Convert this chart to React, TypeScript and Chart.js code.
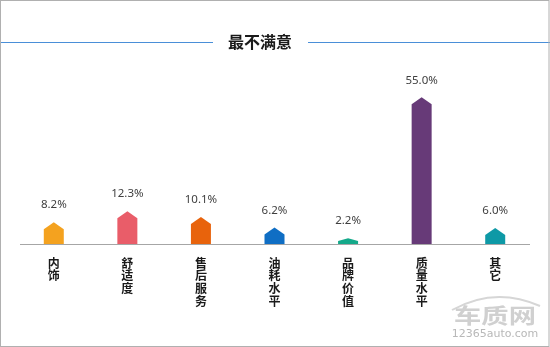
import React, { useEffect, useRef } from "react";
import { Chart, registerables } from "chart.js";

Chart.register(...registerables);

const categories: string[] = ["内饰", "舒适度", "售后服务", "油耗水平", "品牌价值", "质量水平", "其它"];
const values: number[] = [8.2, 12.3, 10.1, 6.2, 2.2, 55.0, 6.0];
const valueLabels: string[] = ["8.2%", "12.3%", "10.1%", "6.2%", "2.2%", "55.0%", "6.0%"];
const barColors: string[] = ["#f4a21f", "#e95d69", "#e8630c", "#0f6ec4", "#14a98a", "#673a78", "#0e99a6"];
const titleText = "最不满意";
const watermarkBrand = "车质网";
const watermarkSite = "12365auto.com";

const decorPlugin = {
  id: "decor",
  beforeDraw(chart: any) {
    const ctx = chart.ctx;
    ctx.save();
    ctx.fillStyle = "#ffffff";
    ctx.fillRect(0, 0, chart.width, chart.height);
    ctx.restore();
  },
  afterDatasetsDraw(chart: any) {
    const ctx = chart.ctx;
    const meta = chart.getDatasetMeta(0);
    ctx.save();
    meta.data.forEach((bar: any, i: number) => {
      const x = bar.x;
      const top = bar.y;
      const base = bar.base;
      const hw = bar.width / 2;
      const h = base - top;
      const cap = Math.min(7, h * 0.5);
      ctx.beginPath();
      ctx.moveTo(x - hw, base);
      ctx.lineTo(x - hw, top + cap);
      ctx.lineTo(x, top);
      ctx.lineTo(x + hw, top + cap);
      ctx.lineTo(x + hw, base);
      ctx.closePath();
      ctx.fillStyle = barColors[i];
      ctx.fill();
      ctx.font = '11.5px "Noto Sans", sans-serif';
      ctx.fillStyle = "#404040";
      ctx.textAlign = "center";
      ctx.textBaseline = "middle";
      ctx.fillText(valueLabels[i], x, top - 17);
    });
    // axis line
    const ca = chart.chartArea;
    ctx.strokeStyle = "#a6a6a6";
    ctx.lineWidth = 1;
    ctx.beginPath();
    ctx.moveTo(20, Math.round(ca.bottom) + 0.5);
    ctx.lineTo(530, Math.round(ca.bottom) + 0.5);
    ctx.stroke();
    ctx.restore();
  },
  afterDraw(chart: any) {
    const ctx = chart.ctx;
    ctx.save();
    // title
    ctx.font = 'bold 16px "Noto Sans CJK SC", sans-serif';
    ctx.fillStyle = "#1a1a1a";
    ctx.textAlign = "center";
    ctx.textBaseline = "middle";
    ctx.fillText(titleText, 260, 41.5);
    ctx.strokeStyle = "#4a8fd8";
    ctx.lineWidth = 1.2;
    ctx.beginPath();
    ctx.moveTo(0, 42.5);
    ctx.lineTo(213, 42.5);
    ctx.moveTo(308, 42.5);
    ctx.lineTo(550, 42.5);
    ctx.stroke();
    // watermark
    ctx.strokeStyle = "#d6d6d6";
    ctx.lineWidth = 2;
    ctx.beginPath();
    ctx.moveTo(452, 310);
    ctx.quadraticCurveTo(495, 286, 540, 306);
    ctx.stroke();
    ctx.save();
    ctx.translate(495, 315);
    ctx.scale(1.3, 1);
    ctx.font = 'bold 21px "Noto Sans CJK SC", sans-serif';
    ctx.fillStyle = "#d0d0d0";
    ctx.textAlign = "center";
    ctx.textBaseline = "middle";
    ctx.fillText(watermarkBrand, 0, 0);
    ctx.restore();
    ctx.font = '11px "DejaVu Sans", sans-serif';
    ctx.fillStyle = "#b8b8b8";
    ctx.textAlign = "center";
    ctx.textBaseline = "middle";
    ctx.fillText(watermarkSite, 495, 334);
    // border
    ctx.strokeStyle = "#b0b0b0";
    ctx.lineWidth = 1;
    ctx.strokeRect(0.5, 0.5, chart.width - 1.5, chart.height - 1);
    ctx.restore();
  },
};

export default function App() {
  const ref = useRef<HTMLCanvasElement>(null);
  useEffect(() => {
    document.body.style.margin = "0";
    const chart = new Chart(ref.current as HTMLCanvasElement, {
      type: "bar",
      data: {
        labels: categories.map((c) => c.split("")),
        datasets: [
          {
            data: values,
            backgroundColor: "rgba(0,0,0,0)",
            barThickness: 20,
          },
        ],
      },
      options: {
        responsive: false,
        animation: false,
        layout: { padding: { left: 17, right: 18, top: 84, bottom: 0 } },
        plugins: { legend: { display: false }, tooltip: { enabled: false }, title: { display: false } },
        scales: {
          x: {
            grid: { display: false },
            border: { display: false },
            ticks: {
              padding: 5,
              color: "#1a1a1a",
              font: { family: '"Noto Sans CJK SC", sans-serif', size: 12, weight: "bold", lineHeight: 1.05 },
              maxRotation: 0,
              autoSkip: false,
            },
            afterFit: (scale: any) => {
              scale.height = 103;
            },
          },
          y: { display: false, min: 0, max: 60 },
        },
      },
      plugins: [decorPlugin],
    });
    return () => chart.destroy();
  }, []);
  return (
    <div style={{ position: "fixed", left: 0, top: 0, width: 550, height: 347 }}>
      <canvas ref={ref} width={550} height={347} />
    </div>
  );
}
